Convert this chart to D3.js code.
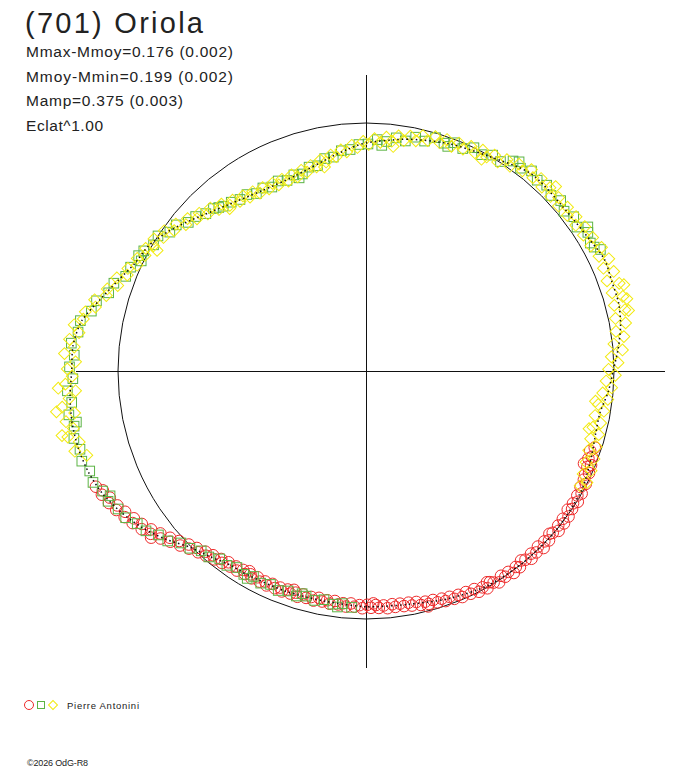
<!DOCTYPE html>
<html><head><meta charset="utf-8">
<script src="https://cdn.jsdelivr.net/npm/d3@7/dist/d3.min.js"></script>
<style>html,body{margin:0;padding:0;background:#fff;}svg{display:block;}</style>
</head><body>
<script>
// ---- Data ----
const title = "(701) Oriola";
const infoLines = ["Mmax-Mmoy=0.176 (0.002)", "Mmoy-Mmin=0.199 (0.002)", "Mamp=0.375 (0.003)", "Eclat^1.00"];
const observer = "Pierre Antonini";
const credit = "\u00A92026 OdG-R8";

// Fitted light curve: rotational phase (deg) and magnitude relative to mean
const fitDeg = [0,10,20,30,40,50,60,65,70,75,80,85,90,95,100,105,110,115,120,130,140,150,160,170,180,190,200,210,215,220,225,230,235,240,245,250,255,260,265,270,275,280,285,290,295,300,305,310,320,330,340,350,355];
const fitDm  = [0.091,0.057,0.027,0.002,-0.040,-0.036,-0.050,-0.065,-0.058,-0.058,-0.045,-0.022,0.004,0.022,0.046,0.045,0.033,0.018,0.006,0.000,0.001,0.005,0.026,0.049,0.055,0.064,0.061,0.055,0.050,0.025,-0.005,-0.058,-0.105,-0.142,-0.172,-0.190,-0.199,-0.201,-0.196,-0.186,-0.185,-0.165,-0.114,-0.068,-0.030,-0.012,0.025,0.070,0.148,0.190,0.193,0.150,0.120];

// Session 1 (red circles): [phase deg, dm]
const redPts = [[108.5,0.030],[109.6,0.045],[110.8,0.028],[111.5,0.040],[112.7,0.018],[113.0,0.050],[113.4,0.030],[114.6,0.012],[115.3,0.025],[116.5,0.020],[117.2,0.004],[118.4,0.018],[119.6,0.000],[120.5,0.012],[121.7,-0.004],[122.6,0.010],[123.8,0.000],[124.5,0.014],[125.7,-0.006],[126.9,0.008],[127.6,-0.008],[128.8,0.006],[129.7,-0.010],[130.9,0.004],[131.6,0.012],[132.8,-0.006],[133.7,0.006],[134.9,-0.012],[135.6,0.010],[136.8,-0.004],[137.9,0.008],[138.6,-0.010],[139.8,0.004],[140.7,0.014],[141.9,-0.006],[142.6,0.006],[143.8,-0.010],[144.7,0.008],[145.9,-0.002],[146.6,0.012],[147.8,-0.008],[148.9,0.004],[149.6,0.014],[150.2,0.020],[150.8,-0.004],[151.7,0.010],[152.9,0.000],[153.6,0.020],[154.8,0.008],[155.7,0.024],[156.9,0.010],[157.6,0.026],[158.8,0.016],[159.7,0.032],[160.9,0.020],[161.6,0.036],[162.8,0.026],[163.7,0.042],[164.9,0.030],[165.2,0.020],[165.6,0.044],[166.8,0.034],[167.7,0.052],[168.9,0.040],[169.6,0.056],[170.8,0.044],[171.7,0.058],[172.9,0.046],[173.6,0.060],[174.8,0.044],[175.7,0.058],[176.9,0.048],[177.6,0.062],[178.2,0.070],[178.8,0.050],[179.7,0.064],[180.9,0.048],[181.6,0.062],[182.8,0.054],[183.7,0.068],[184.9,0.052],[185.6,0.066],[186.8,0.058],[187.7,0.072],[188.9,0.056],[189.6,0.070],[190.8,0.060],[191.7,0.074],[192.9,0.056],[193.6,0.070],[194.8,0.060],[195.7,0.072],[196.9,0.054],[197.6,0.070],[198.2,0.080],[198.8,0.058],[199.7,0.072],[200.9,0.054],[201.6,0.068],[202.8,0.056],[203.7,0.070],[204.9,0.052],[205.6,0.066],[206.8,0.054],[207.7,0.068],[208.9,0.050],[209.6,0.064],[210.2,0.074],[210.8,0.052],[211.7,0.064],[212.9,0.046],[213.6,0.060],[214.8,0.044],[215.7,0.056],[216.9,0.036],[217.6,0.048],[218.8,0.028],[219.7,0.038],[220.9,0.016],[221.6,0.028],[222.8,0.004],[223.7,0.014],[224.9,-0.012],[225.6,0.000],[226.8,-0.030],[227.7,-0.020],[228.9,-0.050],[229.6,-0.040],[230.8,-0.072],[231.7,-0.060],[232.2,-0.100],[232.9,-0.092],[233.6,-0.080],[234.8,-0.110],[235.7,-0.098],[236.9,-0.126],[237.6,-0.112],[238.8,-0.140],[239.7,-0.128],[240.9,-0.154],[241.6,-0.142],[242.8,-0.166],[243.7,-0.154],[244.9,-0.176],[245.6,-0.166],[246.8,-0.184]];

// Session 2 (green squares)
const greenPts = [[183.5,0.050],[185.8,0.064],[186.9,0.046],[188.1,0.056],[190.4,0.070],[192.6,0.058],[194.9,0.068],[196.0,0.074],[197.2,0.056],[199.5,0.066],[201.8,0.052],[204.1,0.064],[206.4,0.050],[208.7,0.062],[209.8,0.040],[211.0,0.048],[213.3,0.058],[215.6,0.040],[217.9,0.044],[220.2,0.020],[222.5,0.018],[224.8,-0.008],[227.1,-0.020],[229.4,-0.056],[231.7,-0.070],[234.0,-0.100],[236.3,-0.112],[238.6,-0.138],[240.9,-0.146],[243.2,-0.166],[244.0,-0.150],[245.5,-0.168],[247.8,-0.188],[250.1,-0.184],[252.4,-0.200],[254.7,-0.194],[257.0,-0.206],[259.3,-0.196],[260.0,-0.185],[261.6,-0.208],[263.9,-0.192],[266.2,-0.204],[268.5,-0.182],[270.8,-0.194],[273.1,-0.178],[275.4,-0.192],[277.7,-0.172],[280.0,-0.170],[282.3,-0.136],[284.6,-0.126],[286.9,-0.088],[289.2,-0.080],[291.5,-0.044],[293.8,-0.040],[296.1,-0.010],[296.9,-0.030],[298.4,-0.020],[300.7,0.004],[303.0,0.000],[305.3,0.034],[307.6,0.038],[309.9,0.074],[312.2,0.082],[314.5,0.108],[316.8,0.116],[318.0,0.130],[319.1,0.140],[321.4,0.150],[323.7,0.166],[326.0,0.166],[328.3,0.188],[330.6,0.180],[332.9,0.198],[335.2,0.184],[337.5,0.200],[339.8,0.186],[340.9,0.210],[342.1,0.196],[344.4,0.172],[346.7,0.176],[349.0,0.148],[351.3,0.148],[353.6,0.122],[355.9,0.120],[358.2,0.098],[0.5,0.096],[2.8,0.074],[4.0,0.100],[5.1,0.080],[7.4,0.058],[9.7,0.066],[12.0,0.040],[14.3,0.048],[16.6,0.020],[18.9,0.032],[20.0,0.040],[21.2,0.014],[23.5,0.024],[25.8,0.000],[28.1,0.012],[30.4,-0.010],[32.7,-0.004],[35.0,-0.036],[36.2,-0.048],[37.3,-0.030],[39.6,-0.050],[41.9,-0.036],[44.2,-0.048],[46.5,-0.030],[48.8,-0.046],[51.1,-0.028],[53.4,-0.046],[55.7,-0.032],[57.0,-0.070],[58.0,-0.058],[60.3,-0.044],[61.5,-0.050],[62.6,-0.068]];

// Session 3 (yellow diamonds)
const yellowPts = [[253.2,-0.176],[254.6,-0.214],[256.1,-0.190],[257.5,-0.226],[258.0,-0.245],[258.9,-0.200],[260.4,-0.222],[261.8,-0.186],[262.5,-0.250],[263.2,-0.228],[264.7,-0.200],[266.1,-0.174],[266.8,-0.236],[267.5,-0.210],[269.0,-0.184],[270.4,-0.202],[271.8,-0.172],[273.3,-0.214],[274.7,-0.180],[276.1,-0.200],[277.6,-0.168],[279.0,-0.190],[280.4,-0.160],[281.9,-0.158],[283.3,-0.124],[284.7,-0.134],[286.2,-0.094],[287.6,-0.098],[289.0,-0.062],[290.5,-0.076],[291.9,-0.040],[293.3,-0.048],[294.8,-0.018],[296.2,-0.030],[297.6,-0.006],[299.1,-0.018],[300.0,0.030],[300.5,0.006],[301.9,-0.008],[303.4,0.024],[304.8,0.010],[306.2,0.046],[307.7,0.034],[309.1,0.072],[310.5,0.060],[312.0,0.094],[313.4,0.084],[314.8,0.116],[316.3,0.104],[317.7,0.138],[319.1,0.126],[320.0,0.170],[320.6,0.158],[322.0,0.146],[323.4,0.174],[324.9,0.160],[326.3,0.186],[327.7,0.170],[329.2,0.196],[330.6,0.178],[332.0,0.200],[333.5,0.182],[334.9,0.204],[336.3,0.184],[337.8,0.206],[339.2,0.182],[340.6,0.202],[342.1,0.176],[343.5,0.194],[344.9,0.166],[346.4,0.180],[347.8,0.150],[348.5,0.190],[349.2,0.166],[350.7,0.136],[352.1,0.148],[353.5,0.118],[355.0,0.130],[356.4,0.100],[357.8,0.112],[359.3,0.084],[0.7,0.098],[2.1,0.070],[3.6,0.086],[5.0,0.060],[6.4,0.076],[6.9,0.100],[7.9,0.048],[9.3,0.066],[10.7,0.040],[12.2,0.056],[13.6,0.026],[15.0,0.042],[16.5,0.016],[17.9,0.036],[19.3,0.012],[20.8,0.034],[22.2,0.008],[23.6,0.026],[25.1,0.000],[26.5,0.018],[27.9,-0.008],[28.6,0.030],[29.4,0.010],[30.8,-0.014],[32.2,0.004],[33.7,-0.026],[35.1,-0.010],[36.5,-0.040],[38.0,-0.026],[39.4,-0.054],[40.8,-0.032],[42.3,-0.052],[43.7,-0.028],[45.1,-0.050],[45.8,-0.070],[46.6,-0.026],[48.0,-0.048],[49.4,-0.024],[50.9,-0.050],[52.3,-0.028],[53.7,-0.054],[55.2,-0.032],[56.6,-0.060],[58.0,-0.036],[59.5,-0.064],[60.9,-0.040],[62.3,-0.076],[63.8,-0.050],[65.2,-0.082],[66.6,-0.046],[68.1,-0.080],[69.5,-0.040],[70.9,-0.084],[71.5,-0.100],[72.4,-0.044],[73.8,-0.082],[74.5,-0.095],[75.2,-0.038],[76.7,-0.076],[77.0,-0.090],[78.1,-0.030],[79.5,-0.068],[81.0,-0.022],[82.4,-0.052],[83.8,-0.006],[85.3,-0.040],[86.7,0.010],[88.1,-0.018],[89.6,0.024],[91.0,-0.006],[92.4,0.034],[93.9,0.008],[95.3,0.046],[96.7,0.020],[97.5,0.075],[98.2,0.060],[99.6,0.030],[101.0,0.066],[102.5,0.034],[103.9,0.064],[104.5,0.080],[105.3,0.030],[106.8,0.060],[108.2,0.024],[109.6,0.052],[111.1,0.016],[112.5,0.044],[113.9,0.008],[115.4,0.034],[116.8,0.002],[118.2,0.022]];

// ---- Drawing ----
const W = 688, H = 768;
const cx = 366, cy = 371, R0 = 248;
const svg = d3.select("body").append("svg").attr("width", W).attr("height", H);
svg.append("rect").attr("width", W).attr("height", H).attr("fill", "#fff");

const ang = d3.scaleLinear().domain([0, 360]).range([0, 2 * Math.PI]);
const rad = d3.scaleLinear().domain([0, 1]).range([0, R0]); // relative brightness
const flux = dm => Math.pow(10, -0.4 * dm);
const px = d => cx + rad(flux(d[1])) * Math.sin(ang(d[0]));
const py = d => cy - rad(flux(d[1])) * Math.cos(ang(d[0]));

const g = svg.append("g");
// axes
g.append("line").attr("x1", cx - 290).attr("x2", cx + 299).attr("y1", cy + 0.5).attr("y2", cy + 0.5)
  .attr("stroke", "#111").attr("stroke-width", 1);
g.append("line").attr("x1", cx + 0.5).attr("x2", cx + 0.5).attr("y1", cy - 296).attr("y2", cy + 297)
  .attr("stroke", "#111").attr("stroke-width", 1);
// mean circle
g.append("circle").attr("cx", cx).attr("cy", cy).attr("r", rad(1))
  .attr("fill", "none").attr("stroke", "#111").attr("stroke-width", 1);

const red = "#ee2a2a", green = "#5cb445", yellow = "#f2ea10";

g.append("g").selectAll("circle").data(redPts).join("circle")
  .attr("cx", px).attr("cy", py).attr("r", 5.8)
  .attr("fill", "none").attr("stroke", red).attr("stroke-width", 1);

g.append("g").selectAll("rect").data(greenPts).join("rect")
  .attr("x", d => px(d) - 4.8).attr("y", d => py(d) - 4.8).attr("width", 9.6).attr("height", 9.6)
  .attr("fill", "none").attr("stroke", green).attr("stroke-width", 1);

const diamond = d3.symbol().type(d3.symbolSquare).size(70);
g.append("g").selectAll("path").data(yellowPts).join("path")
  .attr("d", diamond)
  .attr("transform", d => `translate(${px(d)},${py(d)}) rotate(45)`)
  .attr("fill", "none").attr("stroke", yellow).attr("stroke-width", 1);

// fitted curve
const fitData = fitDeg.map((a, i) => [a, fitDm[i]]);
const lr = d3.lineRadial()
  .angle(d => ang(d[0]))
  .radius(d => rad(flux(d[1])))
  .curve(d3.curveCardinalClosed.tension(0.2));
g.append("path").attr("transform", `translate(${cx},${cy})`)
  .attr("d", lr(fitData))
  .attr("fill", "none").attr("stroke", "#111").attr("stroke-width", 1.5)
  .attr("stroke-dasharray", "1.5,3");

// texts
const font = "'Liberation Sans', Arial, sans-serif";
svg.append("text").attr("x", 25).attr("y", 33).attr("font-family", font).attr("font-size", 29)
  .attr("fill", "#222").attr("textLength", 178).attr("lengthAdjust", "spacing").text(title);
const lineW = [207, 207, 157, 77];
infoLines.forEach((t, i) => {
  svg.append("text").attr("x", 26).attr("y", 57 + i * 24.7).attr("font-family", font).attr("font-size", 15.5)
    .attr("fill", "#222").attr("textLength", lineW[i]).attr("lengthAdjust", "spacing").text(t);
});

// legend
const lg = svg.append("g");
lg.append("circle").attr("cx", 29).attr("cy", 705).attr("r", 4.5).attr("fill", "none").attr("stroke", red);
lg.append("rect").attr("x", 37.5).attr("y", 701.5).attr("width", 7).attr("height", 7).attr("fill", "none").attr("stroke", green);
lg.append("path").attr("d", d3.symbol().type(d3.symbolSquare).size(40)).attr("transform", "translate(53,705) rotate(45)")
  .attr("fill", "none").attr("stroke", yellow);
lg.append("text").attr("x", 67).attr("y", 709).attr("font-family", font).attr("font-size", 9.5)
  .attr("fill", "#222").attr("textLength", 72).attr("lengthAdjust", "spacing").text(observer);
svg.append("text").attr("x", 27).attr("y", 766).attr("font-family", font).attr("font-size", 9)
  .attr("fill", "#222").attr("textLength", 61).attr("lengthAdjust", "spacing").text(credit);
</script>
</body></html>
